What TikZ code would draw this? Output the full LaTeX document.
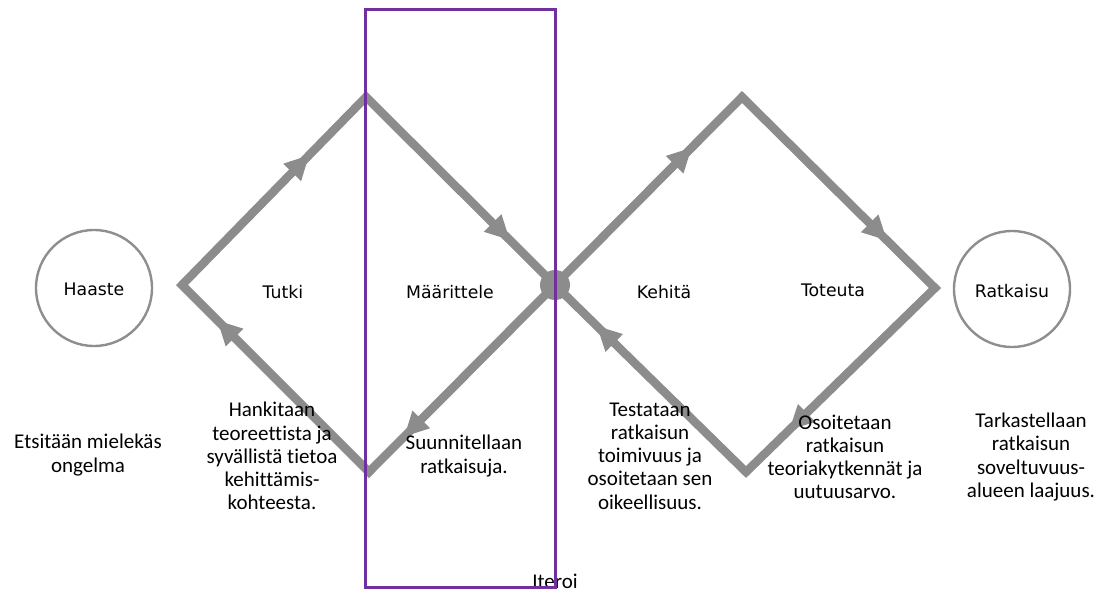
\documentclass[tikz,border=0pt]{standalone}
\usepackage{fontspec}
\setmainfont{Carlito}[Ligatures=NoCommon]
\newfontfamily\labelfont{DejaVu Sans}
\usetikzlibrary{arrows.meta,decorations.markings}
\definecolor{edgegrey}{HTML}{8C8C8C}
\definecolor{ringgrey}{HTML}{8E8E8E}
\definecolor{iterpurple}{HTML}{7030A0}
\begin{document}
\begin{tikzpicture}[x=1pt,y=-1pt,
  edge/.style={draw=edgegrey, line width=8.5pt, line join=miter},
  tipat/.style={postaction={decorate}, decoration={markings,
     mark=at position #1 with {\arrow[edgegrey]{Triangle[length=24pt,width=25pt,line width=0pt]}}}},
  ring/.style={circle, draw=ringgrey, line width=2.4pt, minimum size=116pt, inner sep=0pt},
  stagelabel/.style={font=\labelfont\fontsize{17.3}{19}\selectfont, inner sep=0pt},
  desc/.style={align=center, font=\fontsize{21}{23.2}\selectfont, inner sep=0pt},
  itbox/.style={draw=iterpurple, line width=3pt}
]
\useasboundingbox (0,0) rectangle (1106,594);
% vertices
\coordinate (L1) at (182,285);
\coordinate (T1) at (366,97);
\coordinate (R1) at (555,285);
\coordinate (B1) at (369,472);
\coordinate (T2) at (742,97);
\coordinate (R2) at (935,288);
\coordinate (B2) at (746,472);
% diamonds
\draw[edge] (L1) -- (T1) -- (R1) -- (B1) -- cycle;
\draw[edge] (R1) -- (T2) -- (R2) -- (B2) -- cycle;
% arrowheads
\path[tipat=0.69] (L1) -- (T1);
\path[tipat=0.76] (T1) -- (R1);
\path[tipat=0.81] (R1) -- (B1);
\path[tipat=0.81] (B1) -- (L1);
\path[tipat=0.73] (R1) -- (T2);
\path[tipat=0.75] (T2) -- (R2);
\path[tipat=0.77] (R2) -- (B2);
\path[tipat=0.78] (B2) -- (R1);
% hub
\node[circle, fill=edgegrey, minimum size=30pt, inner sep=0pt] (hub) at (R1) {};
% end circles
\node[ring] (haaste) at (94,288) {};
\node[stagelabel] (haastet) at (94,289) {Haaste};
\node[ring] (ratkaisu) at (1012,289) {};
\node[stagelabel] (ratkaisut) at (1012,291) {Ratkaisu};
% stage labels
\node[stagelabel] (tutki) at (283,292) {Tutki};
\node[stagelabel] (maar) at (450,292) {Määrittele};
\node[stagelabel] (kehita) at (664,292) {Kehitä};
\node[stagelabel] (toteuta) at (833,290) {Toteuta};
% descriptions
\node[desc] (d0) at (88,455) {Etsitään mielekäs\\ongelma};
\node[desc] (d1) at (272,456) {Hankitaan\\teoreettista ja\\syvällistä tietoa\\kehittämis-\\kohteesta.};
\node[desc] (d2) at (464,456) {Suunnitellaan\\ratkaisuja.};
\node[desc] (d3) at (650,456) {Testataan\\ratkaisun\\toimivuus ja\\osoitetaan sen\\oikeellisuus.};
\node[desc] (d4) at (845,457) {Osoitetaan\\ratkaisun\\teoriakytkennät ja\\uutuusarvo.};
\node[desc] (d5) at (1031,457) {Tarkastellaan\\ratkaisun\\soveltuvuus-\\alueen laajuus.};
\node[desc] (iteroi) at (555,581) {Iteroi};
% iteration box
\draw[itbox] (365,10) rectangle (555,587);
\end{tikzpicture}
\end{document}
